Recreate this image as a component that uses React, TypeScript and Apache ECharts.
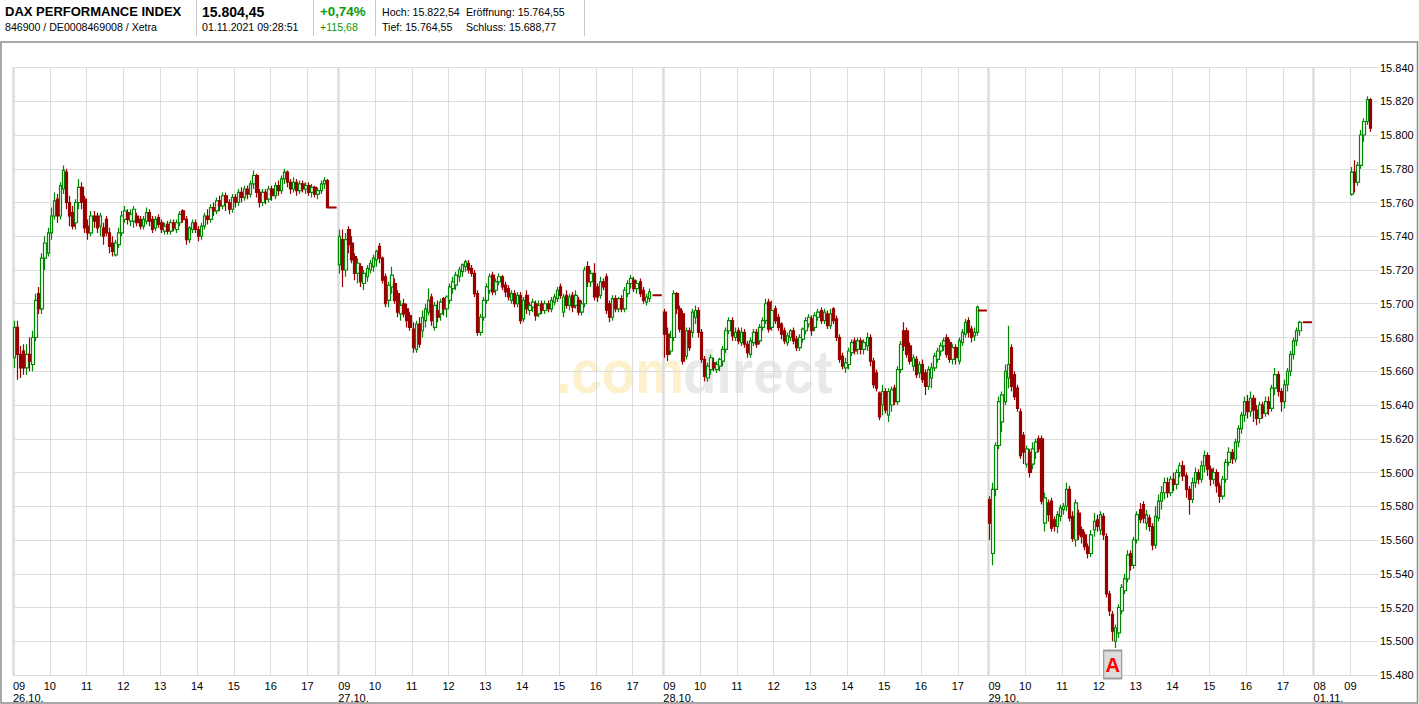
import React, { useEffect, useRef } from 'react';
import * as echarts from 'echarts';

// ---- axis / time structure ----
const dayLabels = ['26.10.', '27.10.', '28.10.', '29.10.', '01.11.'];
const dayStartHours = [9, 9, 9, 9, 8];
const daySlotCounts = [106, 106, 106, 106, 21];
const slotMinutes = 5;
const yMin = 15480;
const yMax = 15840;
const yStep = 20;

// ---- 5-minute candles [open, close, low, high] ----
const day1 = [
  [15668,15686,15662,15690],[15686,15670,15655,15690],[15670,15662,15656,15675],[15672,15662,15658,15676],
  [15662,15670,15658,15676],[15670,15666,15660,15680],[15664,15680,15660,15684],[15680,15702,15678,15706],
  [15706,15697,15694,15710],[15697,15727,15694,15730],[15727,15736,15720,15740],[15730,15742,15728,15745],
  [15742,15752,15738,15757],[15752,15761,15750,15766],[15762,15752,15748,15765],[15752,15770,15750,15772],
  [15768,15779,15765,15782],[15778,15760,15756,15780],[15760,15752,15746,15764],[15754,15746,15744,15758],
  [15748,15760,15744,15762],[15760,15769,15756,15774],[15769,15760,15756,15772],[15762,15745,15742,15764],
  [15746,15742,15738,15750],[15742,15752,15740,15755],[15752,15749,15745,15755],[15752,15745,15742,15754],
  [15746,15752,15740,15754],[15745,15740,15735,15748],[15750,15742,15740,15752],[15742,15734,15730,15745],
  [15736,15731,15728,15740],[15729,15736,15728,15738],[15735,15742,15733,15745],[15742,15752,15740,15755],
  [15750,15755,15748,15758],[15754,15750,15747,15756],[15749,15753,15746,15756],[15749,15756,15745,15758],
  [15752,15748,15746,15754],[15750,15746,15744,15752],[15746,15750,15744,15752],[15749,15754,15747,15757],
  [15754,15749,15746,15756],[15750,15744,15742,15752],[15745,15750,15743,15752],[15751,15747,15745,15753],
  [15748,15744,15742,15750],[15743,15746,15741,15748],[15747,15743,15741,15749],[15743,15748,15741,15750],
  [15748,15745,15743,15750],[15744,15748,15742,15750],[15748,15753,15746,15755],[15755,15750,15748,15756],
  [15750,15738,15735,15752],[15738,15745,15736,15746],[15744,15748,15742,15750],[15748,15744,15742,15750],
  [15744,15740,15737,15746],[15740,15746,15738,15748],[15746,15752,15744,15754],[15752,15750,15747,15756],
  [15750,15757,15748,15759],[15757,15755,15752,15760],[15755,15761,15753,15763],[15761,15758,15755,15764],
  [15758,15764,15756,15766],[15764,15760,15755,15766],[15760,15756,15753,15762],[15756,15763,15754,15765],
  [15763,15760,15757,15765],[15760,15766,15758,15768],[15766,15763,15760,15769],[15763,15768,15761,15770],
  [15768,15765,15762,15770],[15765,15771,15763,15773],[15771,15776,15768,15779],[15776,15766,15763,15777],
  [15766,15760,15757,15768],[15760,15766,15758,15768],[15766,15762,15759,15768],[15762,15768,15760,15770],
  [15768,15764,15761,15770],[15764,15770,15762,15772],[15770,15767,15764,15773],[15767,15774,15765,15776],
  [15774,15778,15771,15780],[15778,15772,15769,15779],[15772,15768,15765,15774],[15768,15772,15766,15775],
  [15772,15767,15764,15774],[15767,15771,15765,15773],[15771,15768,15766,15773],[15768,15770,15765,15772],
  [15770,15766,15764,15772],[15766,15769,15763,15771],[15769,15765,15763,15770],[15765,15767,15762,15769],
  [15767,15771,15765,15773],[15771,15773,15768,15775],[15773,15757,15757,15774]
];

const day2 = [
  [15723,15740,15718,15744],[15738,15720,15710,15744],[15720,15738,15716,15742],[15744,15735,15730,15746],
  [15736,15726,15724,15740],[15728,15718,15714,15730],[15718,15724,15712,15727],[15722,15713,15710,15724],
  [15712,15718,15708,15720],[15716,15721,15713,15723],[15720,15724,15718,15726],[15722,15727,15719,15729],
  [15726,15731,15722,15732],[15734,15727,15724,15736],[15727,15714,15712,15728],[15716,15700,15698,15718],
  [15702,15711,15698,15713],[15710,15717,15706,15722],[15712,15702,15700,15715],[15706,15695,15692,15708],
  [15694,15699,15690,15702],[15700,15694,15692,15703],[15697,15690,15686,15700],[15693,15686,15684,15695],
  [15685,15674,15671,15689],[15673,15688,15671,15690],[15688,15676,15674,15692],[15684,15692,15680,15696],
  [15690,15697,15686,15700],[15695,15702,15693,15709],[15704,15690,15687,15706],[15686,15699,15684,15701],
  [15696,15692,15689,15702],[15694,15701,15690,15703],[15703,15697,15693,15704],[15697,15704,15692,15705],
  [15702,15710,15700,15712],[15709,15713,15706,15716],[15711,15717,15708,15719],[15716,15720,15713,15722],
  [15719,15723,15716,15724],[15722,15725,15719,15726],[15724,15720,15718,15726],[15721,15718,15716,15723],
  [15718,15706,15704,15720],[15706,15683,15681,15708],[15683,15692,15681,15694],[15692,15702,15690,15704],
  [15702,15710,15700,15712],[15708,15716,15706,15718],[15717,15707,15705,15719],[15708,15713,15705,15715],
  [15713,15716,15711,15718],[15716,15710,15708,15717],[15711,15707,15704,15713],[15709,15704,15702,15711],
  [15702,15706,15700,15708],[15706,15700,15698,15708],[15700,15705,15698,15707],[15705,15690,15688,15707],
  [15691,15702,15689,15704],[15705,15697,15694,15708],[15696,15699,15693,15701],[15698,15701,15695,15703],
  [15700,15693,15690,15702],[15694,15699,15692,15702],[15700,15696,15694,15702],[15696,15700,15694,15702],
  [15700,15697,15695,15702],[15697,15702,15695,15704],[15701,15704,15699,15706],[15703,15708,15701,15710],
  [15710,15705,15703,15712],[15695,15704,15692,15706],[15705,15699,15697,15708],[15699,15704,15696,15706],
  [15705,15698,15695,15707],[15699,15705,15697,15708],[15702,15695,15693,15704],[15695,15700,15693,15702],
  [15700,15720,15698,15722],[15722,15713,15710,15725],[15713,15718,15710,15720],[15718,15704,15702,15724],
  [15710,15704,15701,15712],[15705,15713,15703,15716],[15713,15710,15708,15715],[15716,15696,15694,15718],
  [15700,15692,15689,15702],[15692,15703,15690,15705],[15703,15697,15695,15705],[15697,15703,15695,15704],
  [15703,15697,15695,15705],[15697,15708,15695,15710],[15706,15712,15704,15714],[15712,15715,15709,15717],
  [15714,15709,15707,15716],[15709,15712,15706,15714],[15713,15706,15704,15715],[15708,15702,15700,15710],
  [15701,15704,15699,15706],[15703,15707,15701,15709]
];

const day3 = [
  [15695,15682,15668,15697],[15682,15670,15666,15686],[15672,15680,15670,15684],[15680,15706,15678,15708],
  [15706,15697,15694,15707],[15697,15685,15683,15699],[15694,15666,15664,15696],[15669,15684,15667,15686],
  [15684,15674,15672,15686],[15683,15695,15680,15697],[15692,15696,15688,15699],[15696,15683,15680,15698],
  [15683,15667,15665,15685],[15667,15657,15654,15669],[15656,15663,15654,15665],[15661,15668,15658,15670],
  [15665,15662,15660,15668],[15661,15664,15659,15666],[15663,15667,15660,15668],[15666,15673,15663,15675],
  [15673,15684,15671,15686],[15684,15690,15682,15692],[15690,15681,15678,15692],[15680,15683,15678,15686],
  [15684,15678,15676,15686],[15677,15683,15675,15686],[15683,15676,15674,15685],[15676,15671,15668,15678],
  [15670,15678,15668,15680],[15677,15683,15675,15685],[15683,15676,15674,15685],[15678,15686,15676,15688],
  [15686,15690,15684,15692],[15690,15700,15688,15703],[15701,15685,15683,15703],[15686,15696,15684,15702],
  [15697,15690,15688,15699],[15692,15686,15684,15694],[15688,15682,15679,15689],[15684,15678,15676,15686],
  [15677,15681,15675,15683],[15680,15684,15678,15685],[15684,15678,15676,15686],[15679,15674,15672,15681],
  [15674,15680,15672,15682],[15679,15685,15677,15686],[15684,15690,15682,15692],[15688,15692,15686,15694],
  [15691,15684,15681,15693],[15686,15693,15684,15695],[15692,15695,15690,15697],[15696,15690,15688,15698],
  [15690,15695,15688,15697],[15694,15687,15685,15696],[15687,15694,15685,15697],[15697,15690,15688,15698],
  [15691,15680,15678,15693],[15680,15667,15665,15682],[15669,15663,15661,15671],[15662,15665,15659,15668],
  [15664,15672,15661,15674],[15671,15677,15669,15679],[15678,15672,15670,15680],[15673,15678,15670,15680],
  [15678,15673,15670,15680],[15673,15677,15670,15679],[15675,15680,15672,15683],[15680,15666,15663,15682],
  [15666,15652,15650,15668],[15659,15650,15648,15661],[15647,15633,15631,15648],[15640,15648,15634,15652],
  [15648,15637,15635,15650],[15634,15648,15630,15650],[15640,15649,15636,15651],[15650,15642,15640,15652],
  [15642,15661,15640,15663],[15661,15676,15659,15678],[15684,15675,15672,15689],[15684,15670,15668,15686],
  [15675,15666,15664,15677],[15663,15668,15660,15670],[15667,15658,15656,15669],[15659,15664,15656,15666],
  [15664,15655,15653,15667],[15659,15651,15646,15661],[15651,15661,15649,15663],[15656,15662,15650,15665],
  [15662,15669,15660,15671],[15667,15672,15665,15674],[15672,15675,15669,15677],[15675,15678,15672,15680],
  [15680,15670,15668,15682],[15677,15667,15665,15679],[15667,15674,15664,15676],[15674,15668,15664,15676],
  [15666,15678,15664,15680],[15677,15683,15675,15685],[15682,15689,15680,15691],[15690,15683,15680,15692],
  [15685,15680,15677,15687],[15681,15683,15678,15686],[15683,15698,15681,15699]
];

const day4 = [
  [15584,15570,15560,15586],[15552,15590,15545,15594],[15590,15616,15586,15618],[15616,15642,15614,15645],
  [15630,15646,15624,15648],[15642,15660,15640,15664],[15656,15664,15650,15687],[15674,15651,15648,15676],
  [15658,15645,15643,15660],[15650,15638,15636,15652],[15636,15610,15608,15638],[15622,15612,15605,15624],
  [15605,15614,15603,15616],[15612,15600,15597,15614],[15605,15614,15602,15618],[15612,15618,15608,15620],
  [15620,15614,15612,15622],[15620,15583,15581,15622],[15570,15585,15565,15588],[15582,15575,15571,15584],
  [15583,15567,15565,15585],[15572,15568,15565,15574],[15568,15575,15564,15577],[15574,15579,15571,15581],
  [15578,15580,15575,15582],[15580,15590,15577,15594],[15590,15573,15571,15592],[15574,15561,15559,15577],
  [15560,15582,15556,15584],[15576,15563,15560,15578],[15566,15562,15558,15568],[15563,15556,15554,15565],
  [15556,15552,15549,15558],[15552,15563,15550,15566],[15566,15571,15562,15576],[15572,15568,15565,15575],
  [15566,15575,15563,15577],[15574,15563,15560,15576],[15562,15528,15526,15564],[15528,15518,15515,15530],
  [15516,15506,15500,15518],[15500,15508,15496,15510],[15505,15520,15502,15522],[15518,15532,15516,15534],
  [15530,15537,15528,15540],[15537,15551,15535,15554],[15552,15545,15542,15554],[15545,15560,15543,15562],
  [15560,15575,15558,15577],[15578,15572,15570,15582],[15581,15573,15570,15583],[15570,15575,15566,15578],
  [15573,15568,15565,15575],[15568,15557,15554,15570],[15557,15574,15555,15580],[15573,15583,15571,15587],
  [15583,15588,15578,15592],[15588,15594,15584,15597],[15594,15588,15585,15597],[15588,15596,15586,15598],
  [15596,15593,15589,15600],[15593,15600,15590,15602],[15600,15604,15597,15606],[15604,15598,15595,15607],
  [15598,15590,15585,15600],[15590,15584,15575,15592],[15584,15594,15582,15597],[15594,15600,15591,15603],
  [15600,15596,15593,15602],[15596,15604,15594,15607],[15604,15610,15600,15613],[15610,15602,15598,15612],
  [15602,15596,15592,15604],[15596,15600,15593,15603],[15600,15592,15588,15602],[15592,15586,15582,15594],
  [15586,15596,15584,15598],[15596,15606,15594,15608],[15606,15612,15604,15615],[15612,15608,15605,15614],
  [15608,15618,15606,15620],[15618,15626,15615,15628],[15626,15634,15623,15636],[15634,15642,15630,15645],
  [15642,15636,15632,15646],[15636,15644,15633,15648],[15644,15637,15630,15646],[15637,15632,15628,15640],
  [15632,15640,15629,15642],[15640,15635,15632,15642],[15635,15642,15633,15645],[15642,15638,15634,15645],
  [15638,15650,15636,15652],[15650,15658,15646,15662],[15658,15648,15645,15660],[15648,15642,15636,15650],
  [15642,15652,15638,15655],[15652,15660,15648,15662],[15660,15670,15657,15672],[15670,15678,15667,15680],
  [15678,15684,15675,15686],[15684,15689,15681,15690]
];

// 01.11. candles from 09:00 (slot 12 of that day)
const day5FirstSlot = 12;
const day5 = [
  [15765,15778,15764,15781],[15778,15772,15766,15785],[15772,15782,15770,15784],[15782,15800,15780,15803],
  [15800,15808,15796,15810],[15808,15821,15806,15823],[15821,15804,15802,15822]
];

// closing auction levels, drawn as a flat line at the end of each session
const closingLevels = [15757, 15705, 15696, 15689];
const closeLineFrom = 102;
const closeLineTo = 105;

// marker "A"
const markerDay = 3;
const markerSlot = 40;
const markerValue = 15486.2;

const FONT = 'Arial, "Liberation Sans", Helvetica, sans-serif';

export default function App() {
  const ref = useRef<HTMLDivElement>(null);

  useEffect(() => {
    document.body.style.margin = '0';
    if (!ref.current) return;
    const chart = echarts.init(ref.current, undefined, { renderer: 'svg' });

    const pad = (n: number) => (n < 10 ? '0' + n : '' + n);
    const categories: string[] = [];
    const dayStartIdx: number[] = [];
    const hourIdx = new Set<number>();
    const dayStartHourText: string[] = [];
    const candleData: any[] = [];
    const lineData: any[] = [];
    const dayCandles = [day1, day2, day3, day4];

    dayLabels.forEach((d, di) => {
      dayStartIdx.push(categories.length);
      dayStartHourText.push(pad(dayStartHours[di]));
      for (let s = 0; s < daySlotCounts[di]; s++) {
        const mins = dayStartHours[di] * 60 + s * slotMinutes;
        if (mins % 60 === 0) hourIdx.add(categories.length);
        categories.push(`${d} ${pad(Math.floor(mins / 60))}:${pad(mins % 60)}`);
        let c: any = ['-', '-', '-', '-'];
        if (di < 4) {
          const arr = dayCandles[di];
          if (s < arr.length) c = arr[s];
        } else {
          const k = s - day5FirstSlot;
          if (k >= 0 && k < day5.length) c = day5[k];
        }
        candleData.push(c);
        if (di < 4 && s >= closeLineFrom && s <= closeLineTo) lineData.push(closingLevels[di]);
        else lineData.push('-');
      }
    });
    const boundaryCats = [...categories, 'end'];
    const dayStartSet = new Set(dayStartIdx);
    const isHour = (i: number) => hourIdx.has(i) && !dayStartSet.has(i);
    const isDay = (i: number) => dayStartSet.has(i);

    const fmtDE = (v: number) => {
      const t = Math.floor(v / 1000);
      const r = Math.round(v % 1000);
      return `${t}.${r < 10 ? '00' + r : r < 100 ? '0' + r : r}`;
    };

    const markerIdx = dayStartIdx[markerDay] + markerSlot;

    const txt = (x: number, y: number, text: string, font: string, fill = '#000') => ({
      type: 'text', x, y, z: 10, silent: true,
      style: { text, font, fill, textVerticalAlign: 'middle', verticalAlign: 'middle' }
    });
    const vline = (x: number) => ({
      type: 'line', z: 10, silent: true,
      shape: { x1: x, y1: 0, x2: x, y2: 36 },
      style: { stroke: '#c8c8c8', lineWidth: 1 }
    });

    const option: any = {
      animation: false,
      backgroundColor: '#ffffff',
      textStyle: { fontFamily: FONT },
      grid: { left: 13, right: 41, top: 67.5, bottom: 26.7, containLabel: false },
      xAxis: [
        {
          type: 'category', data: categories, boundaryGap: true, show: false
        },
        {
          type: 'category', data: boundaryCats, boundaryGap: false, position: 'bottom',
          axisLine: { show: false }, axisTick: { show: false },
          axisLabel: {
            interval: (i: number) => isHour(i),
            formatter: (v: string) => v.slice(-5, -3),
            color: '#000', fontSize: 11, fontFamily: FONT, margin: 5
          },
          splitLine: { show: true, interval: (i: number) => isHour(i), lineStyle: { color: '#dcdcdc', width: 1 } }
        },
        {
          type: 'category', data: boundaryCats, boundaryGap: false, position: 'bottom',
          axisLine: { show: false }, axisTick: { show: false },
          axisLabel: {
            interval: (i: number) => isDay(i),
            formatter: (v: string, i: number) => {
              const di = dayStartIdx.indexOf(i);
              return `${dayStartHourText[di]}\n${dayLabels[di]}`;
            },
            align: 'left', lineHeight: 12,
            color: '#000', fontSize: 11, fontFamily: FONT, margin: 5
          },
          splitLine: { show: true, interval: (i: number) => isDay(i), lineStyle: { color: '#dcdcdc', width: 2.5 } }
        }
      ],
      yAxis: {
        type: 'value', position: 'right', min: yMin, max: yMax, interval: yStep,
        axisLine: { show: false }, axisTick: { show: false },
        axisLabel: { formatter: (v: number) => fmtDE(v), color: '#000', fontSize: 11, fontFamily: FONT, margin: 2 },
        splitLine: { show: true, lineStyle: { color: '#dcdcdc', width: 1 } }
      },
      graphic: [
        { type: 'rect', z: 10, silent: true, shape: { x: 1, y: 42, width: 1416.5, height: 661 },
          style: { fill: 'none', stroke: '#8c8c8c', lineWidth: 1.5 } },
        vline(196.5), vline(313.5), vline(375.5), vline(584.5),
        txt(5, 11.5, 'DAX PERFORMANCE INDEX', `bold 13px ${FONT}`),
        txt(5, 27, '846900 / DE0008469008 / Xetra', `10.6px ${FONT}`),
        txt(202, 11.5, '15.804,45', `bold 14px ${FONT}`),
        txt(202, 27, '01.11.2021 09:28:51', `10.6px ${FONT}`),
        txt(320, 11.5, '+0,74%', `bold 13.3px ${FONT}`, '#0a9a0a'),
        txt(320, 27, '+115,68', `10.6px ${FONT}`, '#0a9a0a'),
        txt(382, 11.5, 'Hoch: 15.822,54', `10.6px ${FONT}`),
        txt(466, 11.5, 'Eröffnung: 15.764,55', `10.6px ${FONT}`),
        txt(382, 27, 'Tief: 15.764,55', `10.6px ${FONT}`),
        txt(466, 27, 'Schluss: 15.688,77', `10.6px ${FONT}`),
        { type: 'text', x: 556, y: 371.6, z: -1, silent: true, scaleX: 0.9,
          style: { text: '.com', font: `bold 61px ${FONT}`, fill: '#fcf1cc', textVerticalAlign: 'middle', verticalAlign: 'middle' } },
        { type: 'text', x: 683, y: 371.6, z: -1, silent: true, scaleX: 0.9,
          style: { text: 'direct', font: `bold 61px ${FONT}`, fill: '#e9e9e9', textVerticalAlign: 'middle', verticalAlign: 'middle' } }
      ],
      series: [
        {
          type: 'candlestick', xAxisIndex: 0, yAxisIndex: 0, data: candleData,
          barWidth: 3, large: false, silent: true,
          itemStyle: {
            color: '#ffffff', color0: '#990000',
            borderColor: '#008800', borderColor0: '#990000', borderColorDoji: '#990000', borderWidth: 1.2
          },
          markPoint: {
            silent: true,
            symbol: 'rect', symbolSize: [18, 28],
            itemStyle: { color: '#dcdcdc', borderColor: '#9a9a9a', borderWidth: 1.5 },
            label: { show: true, formatter: 'A', color: '#ff0000', fontSize: 20, fontWeight: 'bold', fontFamily: FONT, position: 'inside' },
            data: [{ coord: [categories[markerIdx], markerValue] }]
          }
        },
        {
          type: 'line', xAxisIndex: 0, yAxisIndex: 0, data: lineData, symbol: 'none', silent: true,
          connectNulls: false, lineStyle: { color: '#990000', width: 2 }, z: 3
        }
      ]
    };

    chart.setOption(option);
    return () => chart.dispose();
  }, []);

  return <div ref={ref} style={{ width: 1419, height: 704 }} />;
}
